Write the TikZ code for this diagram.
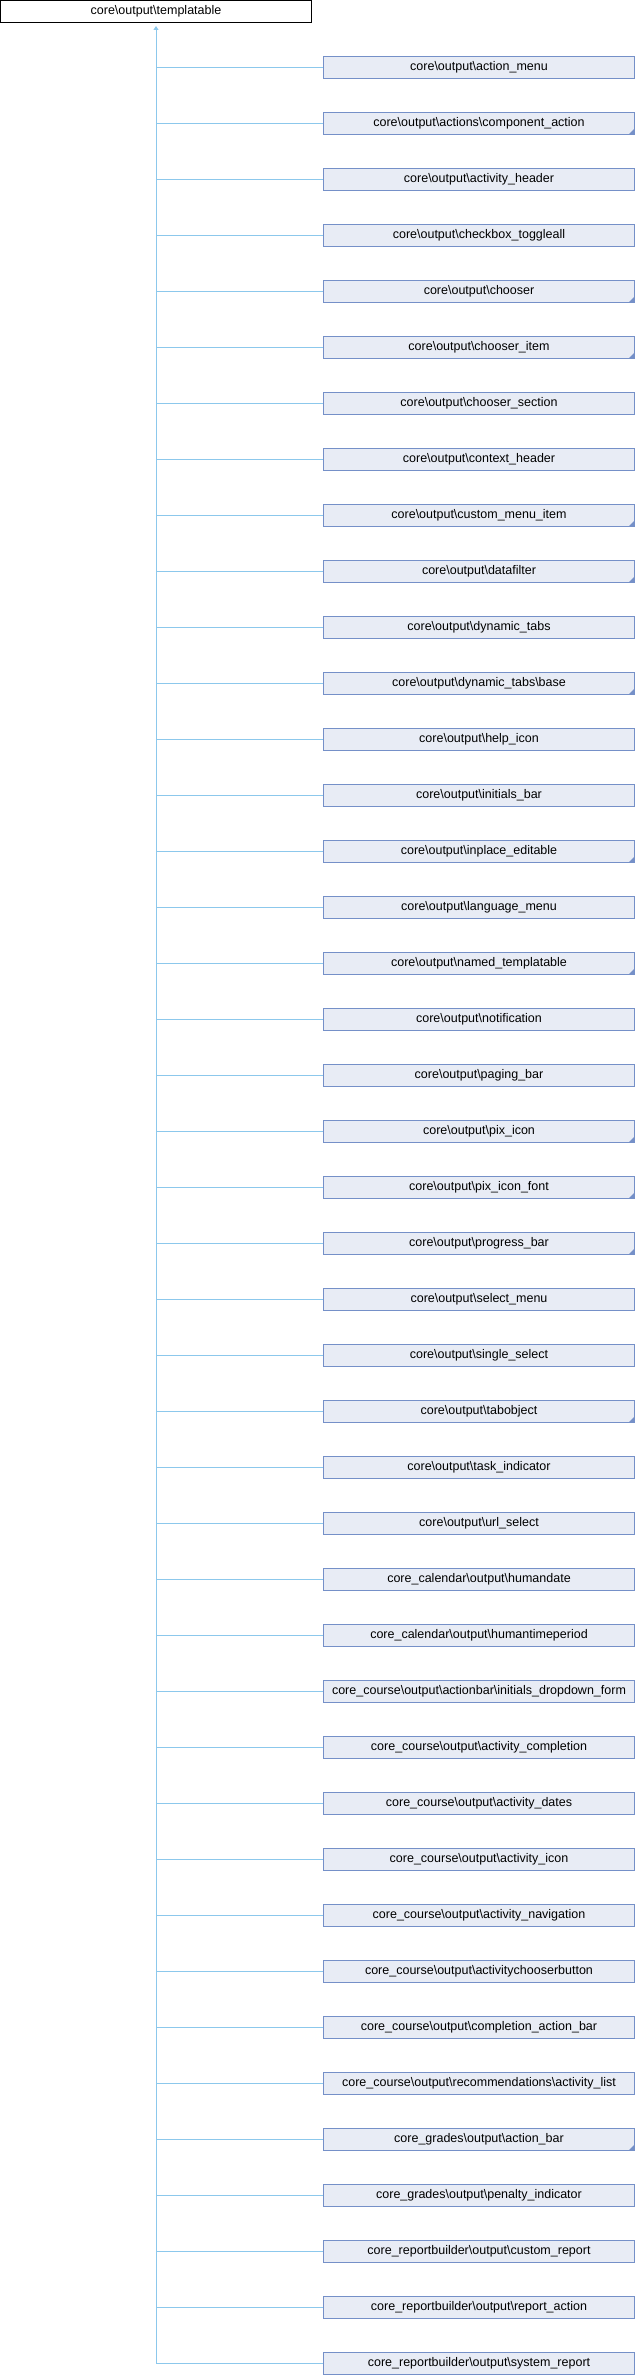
\documentclass[tikz,border=0pt]{standalone}
\usepackage{fontspec}
\setmainfont{Liberation Sans}
\usepackage{tikz}
\usetikzlibrary{arrows.meta}
\definecolor{boxfill}{HTML}{E8ECF5}
\definecolor{boxline}{HTML}{7590C8}
\definecolor{edgeblue}{HTML}{8CC8EC}
\newcommand{\bsl}{\textbackslash}
\begin{document}
\begin{tikzpicture}[x=1pt,y=-1pt,
		basebox/.style={draw=black, line width=1pt, fill=white, inner sep=0pt, minimum width=311pt, minimum height=22.5pt, font=\fontsize{12.5}{14}\selectfont},
		kid/.style={draw=boxline, line width=1pt, fill=boxfill, inner sep=0pt, minimum width=311pt, minimum height=22pt, font=\fontsize{12.5}{14}\selectfont},
		more/.style={path picture={\fill[boxline] (path picture bounding box.south east) -- ++(-6,0) -- ++(6,-6) -- cycle;}},
		edge/.style={draw=edgeblue, line width=1pt}]
				\useasboundingbox (0,0) rectangle (636,2376);
				\node[basebox] (templatable) at (156,11.75) {core\bsl output\bsl templatable};
				% core\output
				\node[kid] (actionmenu) at (479,67.5) {core\bsl output\bsl action\_menu};
				\node[kid,more] (componentaction) at (479,123.5) {core\bsl output\bsl actions\bsl component\_action};
				\node[kid] (activityheader) at (479,179.5) {core\bsl output\bsl activity\_header};
				\node[kid] (checkboxtoggleall) at (479,235.5) {core\bsl output\bsl checkbox\_toggleall};
				\node[kid,more] (chooser) at (479,291.5) {core\bsl output\bsl chooser};
				\node[kid,more] (chooseritem) at (479,347.5) {core\bsl output\bsl chooser\_item};
				\node[kid] (choosersection) at (479,403.5) {core\bsl output\bsl chooser\_section};
				\node[kid] (contextheader) at (479,459.5) {core\bsl output\bsl context\_header};
				\node[kid,more] (custommenuitem) at (479,515.5) {core\bsl output\bsl custom\_menu\_item};
				\node[kid,more] (datafilter) at (479,571.5) {core\bsl output\bsl datafilter};
				\node[kid] (dynamictabs) at (479,627.5) {core\bsl output\bsl dynamic\_tabs};
				\node[kid,more] (dynamictabsbase) at (479,683.5) {core\bsl output\bsl dynamic\_tabs\bsl base};
				\node[kid] (helpicon) at (479,739.5) {core\bsl output\bsl help\_icon};
				\node[kid] (initialsbar) at (479,795.5) {core\bsl output\bsl initials\_bar};
				\node[kid,more] (inplaceeditable) at (479,851.5) {core\bsl output\bsl inplace\_editable};
				\node[kid] (languagemenu) at (479,907.5) {core\bsl output\bsl language\_menu};
				\node[kid,more] (namedtemplatable) at (479,963.5) {core\bsl output\bsl named\_templatable};
				\node[kid] (notification) at (479,1019.5) {core\bsl output\bsl notification};
				\node[kid] (pagingbar) at (479,1075.5) {core\bsl output\bsl paging\_bar};
				\node[kid,more] (pixicon) at (479,1131.5) {core\bsl output\bsl pix\_icon};
				\node[kid,more] (pixiconfont) at (479,1187.5) {core\bsl output\bsl pix\_icon\_font};
				\node[kid,more] (progressbar) at (479,1243.5) {core\bsl output\bsl progress\_bar};
				\node[kid] (selectmenu) at (479,1299.5) {core\bsl output\bsl select\_menu};
				\node[kid] (singleselect) at (479,1355.5) {core\bsl output\bsl single\_select};
				\node[kid,more] (tabobject) at (479,1411.5) {core\bsl output\bsl tabobject};
				\node[kid] (taskindicator) at (479,1467.5) {core\bsl output\bsl task\_indicator};
				\node[kid] (urlselect) at (479,1523.5) {core\bsl output\bsl url\_select};
				% other components
				\node[kid] (humandate) at (479,1579.5) {core\_calendar\bsl output\bsl humandate};
				\node[kid] (humantimeperiod) at (479,1635.5) {core\_calendar\bsl output\bsl humantimeperiod};
				\node[kid] (initialsdropdownform) at (479,1691.5) {core\_course\bsl output\bsl actionbar\bsl initials\_dropdown\_form};
				\node[kid] (activitycompletion) at (479,1747.5) {core\_course\bsl output\bsl activity\_completion};
				\node[kid] (activitydates) at (479,1803.5) {core\_course\bsl output\bsl activity\_dates};
				\node[kid] (activityicon) at (479,1859.5) {core\_course\bsl output\bsl activity\_icon};
				\node[kid] (activitynavigation) at (479,1915.5) {core\_course\bsl output\bsl activity\_navigation};
				\node[kid] (activitychooserbutton) at (479,1971.5) {core\_course\bsl output\bsl activitychooserbutton};
				\node[kid] (completionactionbar) at (479,2027.5) {core\_course\bsl output\bsl completion\_action\_bar};
				\node[kid] (activitylist) at (479,2083.5) {core\_course\bsl output\bsl recommendations\bsl activity\_list};
				\node[kid,more] (gradesactionbar) at (479,2139.5) {core\_grades\bsl output\bsl action\_bar};
				\node[kid] (penaltyindicator) at (479,2195.5) {core\_grades\bsl output\bsl penalty\_indicator};
				\node[kid] (customreport) at (479,2251.5) {core\_reportbuilder\bsl output\bsl custom\_report};
				\node[kid] (reportaction) at (479,2307.5) {core\_reportbuilder\bsl output\bsl report\_action};
				\node[kid] (systemreport) at (479,2363.5) {core\_reportbuilder\bsl output\bsl system\_report};
				% trunk with the arrow up to the base class
				\draw[edge, -{Triangle[width=5pt,length=4pt]}, shorten >=2.5pt] (systemreport.west) -| (templatable.south);
				\draw[edge] (actionmenu.west) -- (actionmenu.west -| templatable.south);
				\draw[edge] (componentaction.west) -- (componentaction.west -| templatable.south);
				\draw[edge] (activityheader.west) -- (activityheader.west -| templatable.south);
				\draw[edge] (checkboxtoggleall.west) -- (checkboxtoggleall.west -| templatable.south);
				\draw[edge] (chooser.west) -- (chooser.west -| templatable.south);
				\draw[edge] (chooseritem.west) -- (chooseritem.west -| templatable.south);
				\draw[edge] (choosersection.west) -- (choosersection.west -| templatable.south);
				\draw[edge] (contextheader.west) -- (contextheader.west -| templatable.south);
				\draw[edge] (custommenuitem.west) -- (custommenuitem.west -| templatable.south);
				\draw[edge] (datafilter.west) -- (datafilter.west -| templatable.south);
				\draw[edge] (dynamictabs.west) -- (dynamictabs.west -| templatable.south);
				\draw[edge] (dynamictabsbase.west) -- (dynamictabsbase.west -| templatable.south);
				\draw[edge] (helpicon.west) -- (helpicon.west -| templatable.south);
				\draw[edge] (initialsbar.west) -- (initialsbar.west -| templatable.south);
				\draw[edge] (inplaceeditable.west) -- (inplaceeditable.west -| templatable.south);
				\draw[edge] (languagemenu.west) -- (languagemenu.west -| templatable.south);
				\draw[edge] (namedtemplatable.west) -- (namedtemplatable.west -| templatable.south);
				\draw[edge] (notification.west) -- (notification.west -| templatable.south);
				\draw[edge] (pagingbar.west) -- (pagingbar.west -| templatable.south);
				\draw[edge] (pixicon.west) -- (pixicon.west -| templatable.south);
				\draw[edge] (pixiconfont.west) -- (pixiconfont.west -| templatable.south);
				\draw[edge] (progressbar.west) -- (progressbar.west -| templatable.south);
				\draw[edge] (selectmenu.west) -- (selectmenu.west -| templatable.south);
				\draw[edge] (singleselect.west) -- (singleselect.west -| templatable.south);
				\draw[edge] (tabobject.west) -- (tabobject.west -| templatable.south);
				\draw[edge] (taskindicator.west) -- (taskindicator.west -| templatable.south);
				\draw[edge] (urlselect.west) -- (urlselect.west -| templatable.south);
				\draw[edge] (humandate.west) -- (humandate.west -| templatable.south);
				\draw[edge] (humantimeperiod.west) -- (humantimeperiod.west -| templatable.south);
				\draw[edge] (initialsdropdownform.west) -- (initialsdropdownform.west -| templatable.south);
				\draw[edge] (activitycompletion.west) -- (activitycompletion.west -| templatable.south);
				\draw[edge] (activitydates.west) -- (activitydates.west -| templatable.south);
				\draw[edge] (activityicon.west) -- (activityicon.west -| templatable.south);
				\draw[edge] (activitynavigation.west) -- (activitynavigation.west -| templatable.south);
				\draw[edge] (activitychooserbutton.west) -- (activitychooserbutton.west -| templatable.south);
				\draw[edge] (completionactionbar.west) -- (completionactionbar.west -| templatable.south);
				\draw[edge] (activitylist.west) -- (activitylist.west -| templatable.south);
				\draw[edge] (gradesactionbar.west) -- (gradesactionbar.west -| templatable.south);
				\draw[edge] (penaltyindicator.west) -- (penaltyindicator.west -| templatable.south);
				\draw[edge] (customreport.west) -- (customreport.west -| templatable.south);
				\draw[edge] (reportaction.west) -- (reportaction.west -| templatable.south);
		\end{tikzpicture}
\end{document}
